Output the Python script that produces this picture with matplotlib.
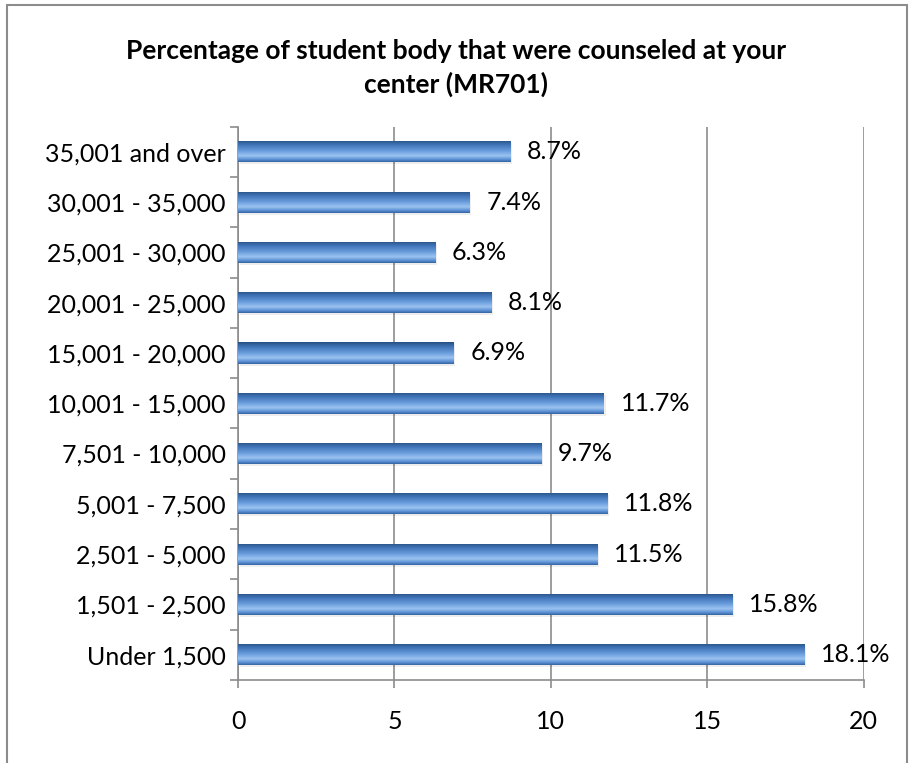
import numpy as np
import matplotlib
matplotlib.use("Agg")
import matplotlib.pyplot as plt
from matplotlib.colors import LinearSegmentedColormap
from matplotlib.patches import Rectangle

# ---------------------------------------------------
# Data
# ---------------------------------------------------
categories = ["Under 1,500", "1,501 - 2,500", "2,501 - 5,000", "5,001 - 7,500",
              "7,501 - 10,000", "10,001 - 15,000", "15,001 - 20,000",
              "20,001 - 25,000", "25,001 - 30,000", "30,001 - 35,000",
              "35,001 and over"]
values = [18.1, 15.8, 11.5, 11.8, 9.7, 11.7, 6.9, 8.1, 6.3, 7.4, 8.7]
x_ticks = [0, 5, 10, 15, 20]

title = "Percentage of student body that were counseled at your\ncenter (MR701)"

plt.rcParams['font.family'] = ['Lato', 'DejaVu Sans']

fig = plt.figure(figsize=(9.12, 7.63), dpi=100)
ax = fig.add_axes([0.261, 0.109, 0.686, 0.725])

# outer chart border
fig.add_artist(Rectangle((0.008, -0.01), 0.986, 1.003, transform=fig.transFigure,
                         fill=False, edgecolor='#8c8c8c', linewidth=1.5))

y = np.arange(len(categories))
bars = ax.barh(y, values, height=0.42, color='#4F81BD', zorder=3)

# bevel-like vertical gradient on every bar
grad_cmap = LinearSegmentedColormap.from_list(
    "bevel", [(0.0, '#3465A4'), (0.12, '#5E93D6'), (0.28, '#9CC3F0'),
              (0.5, '#6A9EDD'), (0.8, '#3F73B6'), (1.0, '#274F82')])
grad = np.linspace(1, 0, 64).reshape(-1, 1)
for b in bars:
    x0, y0 = b.get_x(), b.get_y()
    w, h = b.get_width(), b.get_height()
    im = ax.imshow(grad, cmap=grad_cmap, aspect='auto',
                   extent=(x0, x0 + w, y0, y0 + h), zorder=4)
    im.set_clip_path(b)
    # soft shadow
    ax.add_patch(Rectangle((x0 + 0.05, y0 - 0.04), w, h, color='#000000',
                           alpha=0.07, zorder=2, linewidth=0))

for yi, v in zip(y, values):
    ax.annotate(f"{v}%", (v, yi), xytext=(12, 0), textcoords='offset points',
                va='center', ha='left', fontsize=18, color='black')

ax.set_xlim(0, 20)
ax.set_ylim(-0.5, len(categories) - 0.5)
ax.set_xticks(x_ticks)
ax.set_xticklabels([str(t) for t in x_ticks], fontsize=18)
ax.set_yticks(y)
ax.set_yticklabels(categories, fontsize=18)
ax.set_yticks(np.arange(-0.5, len(categories), 1), minor=True)
ax.tick_params(axis='y', which='major', length=0, pad=9)
ax.tick_params(axis='y', which='minor', length=6, color='#8c8c8c', width=1.2)
ax.tick_params(axis='x', length=6, color='#8c8c8c', width=1.2, pad=16)

ax.grid(axis='x', color='#8c8c8c', linewidth=1.2, zorder=0)
ax.set_axisbelow(True)
for s in ['top', 'right']:
    ax.spines[s].set_visible(False)
for s in ['left', 'bottom']:
    ax.spines[s].set_color('#8c8c8c')
    ax.spines[s].set_linewidth(1.2)

fig.text(0.5, 0.911, title, ha='center', va='center', fontsize=19,
         fontweight='bold', linespacing=1.4)

fig.savefig("out.png", dpi=100)
